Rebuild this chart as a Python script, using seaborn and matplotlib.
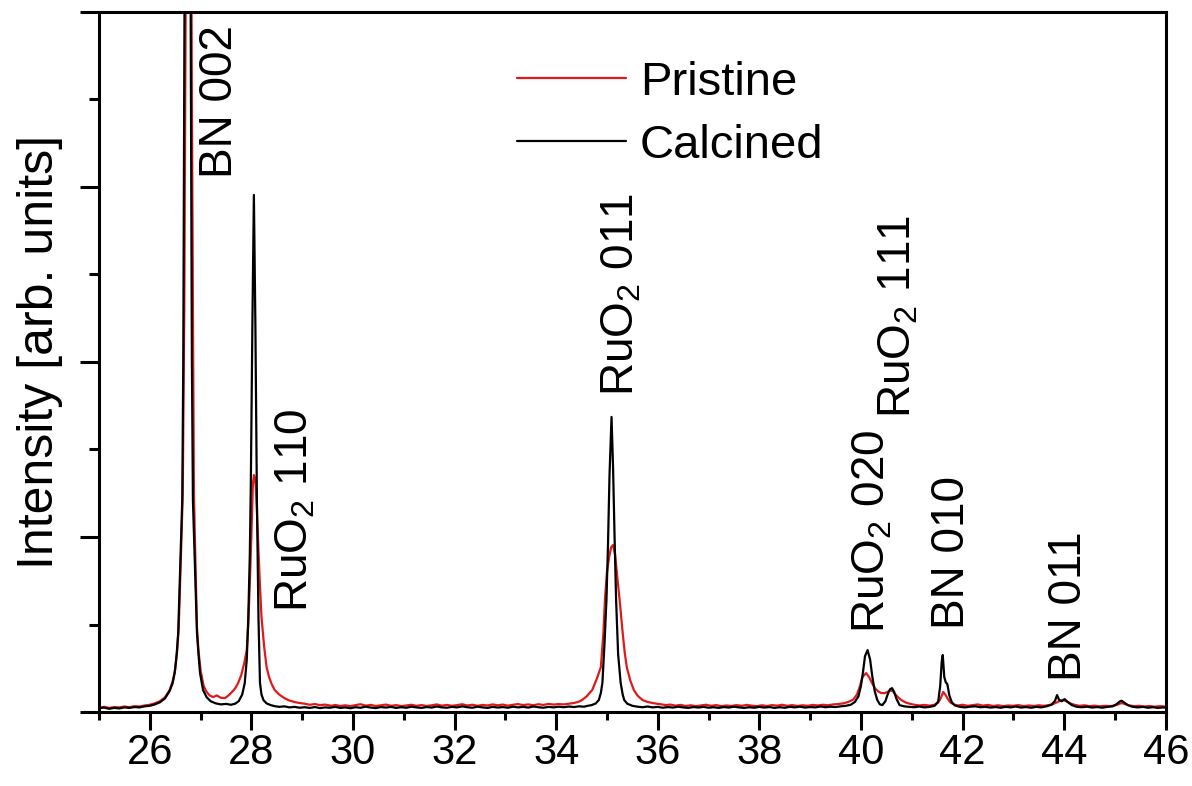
import matplotlib
matplotlib.use("Agg")
import matplotlib.pyplot as plt
import seaborn as sns
import pandas as pd
from matplotlib.ticker import MultipleLocator

# XRD scans: (2theta [deg], intensity [arb. units])
calcined_scan = [
    (25.0, 22), (25.1, 26), (25.2, 19), (25.3, 24), (25.4, 21), (25.5, 27), (25.6, 24), (25.7, 29),
    (25.8, 27), (25.9, 33), (26.0, 36), (26.1, 44), (26.2, 56), (26.3, 78), (26.39, 120), (26.45, 165),
    (26.49, 223), (26.53, 330), (26.56, 451), (26.60, 829), (26.64, 1211), (26.66, 2000), (26.68, 3600),
    (26.70, 5500), (26.72, 7800), (26.745, 9000), (26.77, 7800), (26.79, 5500), (26.81, 3600),
    (26.83, 2000), (26.85, 1211), (26.89, 829), (26.93, 451), (26.96, 330), (26.99, 223), (27.05, 126),
    (27.12, 85), (27.2, 62), (27.3, 50), (27.4, 44), (27.5, 47), (27.6, 42), (27.68, 48), (27.75, 62),
    (27.82, 100), (27.87, 166), (27.91, 300), (27.94, 543), (27.97, 900), (27.99, 1309), (28.02, 2200),
    (28.05, 2954), (28.08, 2200), (28.11, 1200), (28.14, 543), (28.17, 166), (28.20, 100), (28.24, 68),
    (28.3, 50), (28.38, 40), (28.46, 34), (28.55, 30), (28.65, 33), (28.75, 27), (28.85, 30), (28.95, 25),
    (29.05, 28), (29.15, 24), (29.25, 29), (29.35, 23), (29.45, 27), (29.55, 25), (29.65, 30), (29.75, 24),
    (29.85, 27), (29.95, 22), (30.05, 28), (30.15, 25), (30.25, 31), (30.35, 26), (30.45, 23), (30.55, 29),
    (30.65, 26), (30.75, 30), (30.85, 24), (30.95, 28), (31.05, 25), (31.15, 31), (31.25, 27), (31.35, 24),
    (31.45, 29), (31.55, 26), (31.65, 32), (31.75, 27), (31.85, 25), (31.95, 30), (32.05, 27), (32.15, 33),
    (32.25, 28), (32.35, 25), (32.45, 31), (32.55, 27), (32.65, 24), (32.75, 30), (32.85, 26), (32.95, 29),
    (33.05, 25), (33.15, 31), (33.25, 27), (33.35, 30), (33.45, 26), (33.55, 32), (33.65, 28), (33.75, 25),
    (33.85, 30), (33.95, 27), (34.05, 31), (34.15, 28), (34.25, 32), (34.35, 29), (34.45, 33), (34.55, 31),
    (34.62, 36), (34.7, 40), (34.78, 50), (34.84, 69), (34.88, 110), (34.91, 166), (34.95, 380),
    (34.99, 640), (35.02, 950), (35.05, 1350), (35.09, 1686), (35.12, 1400), (35.15, 1000), (35.18, 640),
    (35.22, 330), (35.27, 166), (35.31, 100), (35.34, 69), (35.4, 48), (35.5, 36), (35.6, 31),
    (35.7, 28), (35.8, 32), (35.9, 27), (36.0, 30), (36.1, 25), (36.2, 29), (36.3, 26), (36.4, 31),
    (36.5, 27), (36.6, 24), (36.7, 29), (36.8, 26), (36.9, 30), (37.0, 25), (37.1, 28), (37.2, 24),
    (37.3, 29), (37.4, 26), (37.5, 31), (37.6, 27), (37.7, 24), (37.8, 28), (37.9, 25), (38.0, 30),
    (38.1, 26), (38.2, 29), (38.3, 24), (38.4, 28), (38.5, 25), (38.6, 30), (38.7, 27), (38.8, 31),
    (38.9, 26), (39.0, 29), (39.1, 27), (39.2, 32), (39.3, 28), (39.4, 31), (39.5, 29), (39.6, 33),
    (39.7, 36), (39.8, 42), (39.88, 58), (39.95, 90), (40.0, 150), (40.04, 230), (40.08, 320),
    (40.13, 354), (40.18, 300), (40.22, 210), (40.27, 120), (40.32, 70), (40.37, 45), (40.42, 40),
    (40.48, 62), (40.53, 105), (40.57, 130), (40.61, 137), (40.65, 118), (40.70, 75), (40.76, 40),
    (40.85, 33), (40.95, 30), (41.05, 28), (41.15, 32), (41.25, 27), (41.35, 30), (41.45, 36),
    (41.52, 60), (41.56, 150), (41.59, 290), (41.61, 326), (41.64, 200), (41.67, 170), (41.70, 160),
    (41.74, 95), (41.79, 55), (41.85, 38), (41.95, 30), (42.05, 27), (42.15, 31), (42.25, 33),
    (42.35, 28), (42.45, 30), (42.55, 26), (42.65, 29), (42.75, 25), (42.85, 30), (42.95, 27),
    (43.05, 32), (43.15, 26), (43.25, 29), (43.35, 25), (43.45, 30), (43.55, 27), (43.65, 33),
    (43.75, 42), (43.82, 65), (43.86, 97), (43.9, 70), (43.95, 62), (44.01, 74), (44.07, 58),
    (44.15, 40), (44.25, 30), (44.35, 28), (44.45, 31), (44.55, 26), (44.65, 29), (44.75, 25),
    (44.85, 30), (44.95, 33), (45.03, 45), (45.09, 60), (45.13, 65), (45.18, 55), (45.25, 40),
    (45.35, 30), (45.45, 27), (45.55, 30), (45.65, 25), (45.75, 28), (45.85, 24), (45.95, 27), (46.0, 25),
]

pristine_scan = [
    (25.0, 25), (25.1, 30), (25.2, 24), (25.3, 29), (25.4, 27), (25.5, 32), (25.6, 28), (25.7, 34),
    (25.8, 32), (25.9, 38), (26.0, 42), (26.1, 50), (26.2, 62), (26.3, 85), (26.39, 125), (26.45, 175),
    (26.5, 240), (26.54, 350), (26.57, 480), (26.61, 850), (26.65, 1250), (26.68, 2300), (26.70, 3500),
    (26.72, 5000), (26.765, 7500), (26.81, 5000), (26.83, 3500), (26.85, 2300), (26.87, 1250),
    (26.90, 850), (26.93, 480), (26.96, 350), (27.0, 240), (27.06, 150), (27.12, 115), (27.18, 95),
    (27.25, 86), (27.32, 95), (27.4, 82), (27.48, 80), (27.55, 95), (27.62, 115), (27.68, 135),
    (27.74, 166), (27.8, 210), (27.86, 280), (27.91, 354), (27.94, 500), (27.97, 737), (28.0, 1000),
    (28.03, 1300), (28.05, 1354), (28.07, 1340), (28.09, 1280), (28.11, 1150), (28.14, 926),
    (28.17, 720), (28.20, 543), (28.25, 380), (28.30, 257), (28.35, 200), (28.40, 160), (28.46, 126),
    (28.55, 100), (28.65, 80), (28.75, 66), (28.86, 57), (28.95, 52), (29.05, 48), (29.15, 42),
    (29.25, 46), (29.35, 40), (29.45, 43), (29.58, 36), (29.65, 41), (29.75, 35), (29.85, 39),
    (29.95, 34), (30.05, 40), (30.15, 45), (30.25, 37), (30.35, 41), (30.45, 35), (30.55, 39),
    (30.65, 43), (30.75, 36), (30.85, 40), (30.95, 34), (31.05, 38), (31.15, 42), (31.25, 36),
    (31.35, 40), (31.45, 35), (31.55, 39), (31.65, 44), (31.75, 37), (31.85, 41), (31.95, 36),
    (32.05, 40), (32.15, 45), (32.25, 38), (32.35, 42), (32.45, 36), (32.55, 41), (32.65, 38),
    (32.75, 44), (32.85, 39), (32.95, 43), (33.05, 37), (33.15, 42), (33.25, 46), (33.35, 40),
    (33.45, 44), (33.55, 39), (33.65, 45), (33.75, 41), (33.85, 47), (33.95, 43), (34.05, 46),
    (34.15, 44), (34.25, 48), (34.35, 52), (34.45, 60), (34.51, 69), (34.6, 90), (34.71, 126),
    (34.8, 190), (34.88, 257), (34.93, 451), (34.96, 640), (35.0, 800), (35.04, 880), (35.08, 940),
    (35.12, 954), (35.16, 900), (35.2, 780), (35.25, 640), (35.31, 451), (35.35, 340), (35.39, 257),
    (35.46, 180), (35.53, 126), (35.6, 95), (35.7, 69), (35.8, 58), (35.9, 52), (36.0, 47),
    (36.08, 44), (36.16, 40), (36.25, 43), (36.35, 37), (36.45, 41), (36.55, 35), (36.65, 39),
    (36.75, 34), (36.85, 38), (36.95, 42), (37.05, 36), (37.15, 40), (37.25, 34), (37.35, 38),
    (37.45, 35), (37.55, 40), (37.65, 36), (37.75, 41), (37.85, 37), (37.95, 34), (38.05, 39),
    (38.15, 35), (38.25, 40), (38.35, 37), (38.45, 42), (38.55, 36), (38.65, 40), (38.75, 35),
    (38.85, 39), (38.95, 36), (39.05, 41), (39.15, 38), (39.25, 42), (39.35, 39), (39.45, 44),
    (39.55, 46), (39.65, 50), (39.75, 58), (39.85, 72), (39.92, 100), (39.97, 140), (40.03, 200),
    (40.10, 223), (40.16, 200), (40.22, 165), (40.28, 135), (40.34, 118), (40.40, 109), (40.46, 108),
    (40.52, 115), (40.58, 124), (40.63, 118), (40.68, 100), (40.74, 82), (40.8, 68), (40.88, 55),
    (40.96, 48), (41.05, 42), (41.15, 38), (41.25, 41), (41.35, 37), (41.45, 42), (41.52, 55),
    (41.57, 80), (41.62, 115), (41.66, 100), (41.70, 80), (41.76, 55), (41.84, 42), (41.92, 38),
    (42.0, 42), (42.1, 36), (42.2, 40), (42.3, 44), (42.4, 37), (42.5, 41), (42.6, 35), (42.7, 39),
    (42.8, 34), (42.9, 38), (43.0, 36), (43.1, 40), (43.2, 34), (43.3, 38), (43.4, 35), (43.5, 39),
    (43.6, 36), (43.7, 40), (43.78, 46), (43.85, 55), (43.92, 65), (43.98, 70), (44.04, 62),
    (44.12, 50), (44.2, 42), (44.3, 36), (44.4, 39), (44.5, 34), (44.6, 37), (44.7, 33), (44.8, 36),
    (44.9, 34), (45.0, 38), (45.07, 45), (45.13, 52), (45.2, 46), (45.28, 38), (45.38, 34),
    (45.48, 36), (45.58, 32), (45.68, 35), (45.78, 31), (45.88, 34), (45.98, 32), (46.0, 32),
]

sample_names = ["Pristine", "Calcined"]
sample_colors = {"Pristine": "#e0191b", "Calcined": "#000000"}

# Reflection labels: (text, 2theta, intensity at label base)
reflection_labels = [
    ("BN 002", 27.38, 3050),
    ("RuO$_2$ 110", 28.87, 570),
    ("RuO$_2$ 011", 35.28, 1805),
    ("RuO$_2$ 020", 40.23, 450),
    ("RuO$_2$ 111", 40.74, 1680),
    ("BN 010", 41.80, 475),
    ("BN 011", 44.09, 180),
]

x_limits = (25, 46)
y_limits = (0, 4000)

frames = []
for name, scan in zip(sample_names, [pristine_scan, calcined_scan]):
    frame = pd.DataFrame(scan, columns=["two_theta", "intensity"])
    frame["sample"] = name
    frames.append(frame)
data = pd.concat(frames, ignore_index=True)

sns.set_theme(style="ticks")
plt.rcParams["font.family"] = ["Liberation Sans", "DejaVu Sans"]
plt.rcParams["mathtext.fontset"] = "custom"
plt.rcParams["mathtext.rm"] = "Liberation Sans"
plt.rcParams["mathtext.it"] = "Liberation Sans:italic"
plt.rcParams["mathtext.default"] = "regular"
plt.rcParams["text.color"] = "black"
plt.rcParams["axes.labelcolor"] = "black"
plt.rcParams["xtick.color"] = "black"
plt.rcParams["ytick.color"] = "black"
plt.rcParams["axes.edgecolor"] = "black"

fig = plt.figure(figsize=(11.92, 7.86), dpi=100)
ax = fig.add_axes([0.083, 0.094, 0.895, 0.891])

sns.lineplot(
    data=data, x="two_theta", y="intensity", hue="sample",
    hue_order=sample_names, palette=sample_colors,
    sort=False, estimator=None, linewidth=1.6, ax=ax,
)

ax.set_xlim(*x_limits)
ax.set_ylim(*y_limits)

ax.xaxis.set_major_locator(MultipleLocator(2))
ax.xaxis.set_minor_locator(MultipleLocator(1))
ax.yaxis.set_major_locator(MultipleLocator(1000))
ax.yaxis.set_minor_locator(MultipleLocator(500))

ax.tick_params(axis="x", which="major", direction="out", length=13, width=2.2,
               labelsize=30, pad=2, top=False, colors="black")
ax.tick_params(axis="x", which="minor", direction="out", length=6, width=2.2, top=False,
               colors="black")
ax.tick_params(axis="y", which="major", direction="out", length=14, width=2.2,
               labelleft=False, right=False, colors="black")
ax.tick_params(axis="y", which="minor", direction="out", length=7, width=2.2, right=False,
               colors="black")

for spine in ax.spines.values():
    spine.set_visible(True)
    spine.set_linewidth(2.2)
    spine.set_color("black")

ax.set_xlabel("")
ax.set_ylabel("Intensity [arb. units]", fontsize=36, labelpad=12, color="black")
ax.yaxis.label.set_y(0.515)

for text, tt, inten in reflection_labels:
    ax.text(tt, inten, text, rotation=90, ha="center", va="bottom", fontsize=33, color="black")

handles, labels = ax.get_legend_handles_labels()
leg = ax.legend(handles, labels, frameon=False, fontsize=34, loc="upper left",
                bbox_to_anchor=(0.392, 0.93), borderpad=0, borderaxespad=0,
                handlelength=2.3, handletextpad=0.3, labelspacing=0.4)
for line in leg.get_lines():
    line.set_linewidth(1.6)
for t in leg.get_texts():
    t.set_color("black")

fig.savefig("out.png", dpi=100)
